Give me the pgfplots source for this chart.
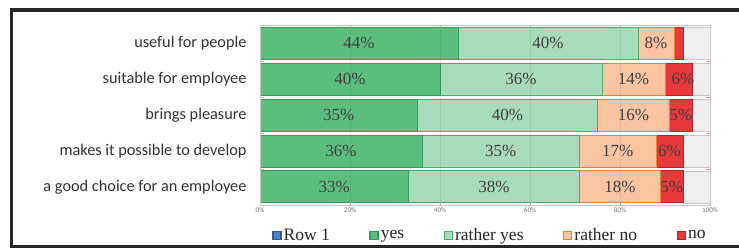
\documentclass[border=0pt]{standalone}
\usepackage{pgfplots}
\pgfplotsset{compat=1.18}
\usepackage{fontspec}
\setmainfont{Liberation Serif}
\newfontfamily\calfont{Carlito}
\definecolor{cyes}{RGB}{92,190,126}
\definecolor{cyesb}{RGB}{50,160,90}
\definecolor{cryes}{RGB}{166,220,186}
\definecolor{cryesb}{RGB}{70,175,110}
\definecolor{crno}{RGB}{250,196,160}
\definecolor{crnob}{RGB}{235,130,55}
\definecolor{cno}{RGB}{232,56,58}
\definecolor{cnob}{RGB}{195,30,40}
\definecolor{crest}{RGB}{238,238,238}
\definecolor{crestb}{RGB}{200,200,200}
\definecolor{crow}{RGB}{79,129,189}
\definecolor{crowb}{RGB}{50,90,150}
\begin{document}
\begin{tikzpicture}[x=1pt,y=1pt]
\useasboundingbox (0,0) rectangle (739,248);
\fill[white] (0,0) rectangle (739,248);
\draw[line width=4pt, black!85] (10,237.5) -- (739,237.5);
\draw[line width=3pt, black!85] (11.5,239) -- (11.5,0);
\draw[line width=3pt, black!85] (10,1.5) -- (739,1.5);
\begin{axis}[
  at={(260pt,43pt)}, anchor=south west,
  scale only axis, width=450pt, height=180pt,
  xbar stacked, bar width=32pt,
  xmin=0, xmax=100, ymin=-0.5, ymax=4.5, y dir=reverse,
  axis line style={black!22},
  xtick={0,20,40,60,80,100},
  xticklabels={0\%,20\%,40\%,60\%,80\%,100\%},
  xticklabel style={font=\calfont\fontsize{7}{8}\selectfont, text=black!55, yshift=-2pt},
  xmajorgrids, grid style={black, opacity=0.07},
  major tick length=3pt, tick style={black!35},
  x tick label style={inner sep=1pt},
  ytick={0,1,2,3,4},
  yticklabels={useful for people, suitable for employee, brings pleasure, makes it possible to develop, a good choice for an employee},
  yticklabel style={font=\calfont\fontsize{16.3}{18}\selectfont, text=black!80, xshift=-10pt},
  y tick style={draw=none},
  minor ytick={0.5,1.5,2.5,3.5},
  minor y tick style={draw=red!40}, minor tick length=4pt,
  axis on top,
  legend columns=5,
  legend style={at={(0.027,-0.17)}, anchor=west, draw=none, fill=none, inner sep=0pt,
    font=\fontsize{17.5}{19}\selectfont, text=black!85,
    /tikz/every even column/.append style={column sep=37.5pt},
    nodes={inner sep=2pt}},
  legend image code/.code={\draw[#1, line width=1.4pt] (0pt,-4pt) rectangle (8pt,4pt);},
]
\addlegendimage{fill=crow, draw=crowb}
\addlegendentry{Row 1}
\addplot[fill=cyes, draw=cyesb, line width=1pt] coordinates {(44,0) (40,1) (35,2) (36,3) (33,4)};
\addlegendentry{yes}
\addplot[fill=cryes, draw=cryesb, line width=1pt] coordinates {(40,0) (36,1) (40,2) (35,3) (38,4)};
\addlegendentry{rather yes}
\addplot[fill=crno, draw=crnob, line width=1pt] coordinates {(8,0) (14,1) (16,2) (17,3) (18,4)};
\addlegendentry{rather no}
\addplot[fill=cno, draw=cnob, line width=1pt] coordinates {(2,0) (6,1) (5,2) (6,3) (5,4)};
\addlegendentry{no}
\addplot[fill=crest, draw=crestb, line width=0.8pt, forget plot] coordinates {(6,0) (4,1) (4,2) (6,3) (6,4)};
\end{axis}
\begin{axis}[
  at={(260pt,43pt)}, anchor=south west,
  scale only axis, width=450pt, height=180pt,
  xmin=0, xmax=100, ymin=-0.5, ymax=4.5, y dir=reverse,
  hide axis, clip=false]
\addplot[draw=none, mark=none,
  nodes near coords, point meta=explicit symbolic, nodes near coords align=center,
  every node near coord/.append style={anchor=center, font=\fontsize{17}{19}\selectfont, text=black!75}]
  table[meta=lab] {
x y lab
22 0 44\%
64 0 40\%
88 0 8\%
20 1 40\%
58 1 36\%
83 1 14\%
94 1 6\%
17.5 2 35\%
55 2 40\%
83 2 16\%
93.5 2 5\%
18 3 36\%
53.5 3 35\%
79.5 3 17\%
91 3 6\%
16.5 4 33\%
52 4 38\%
80 4 18\%
91.5 4 5\%
};
\end{axis}
\end{tikzpicture}
\end{document}
